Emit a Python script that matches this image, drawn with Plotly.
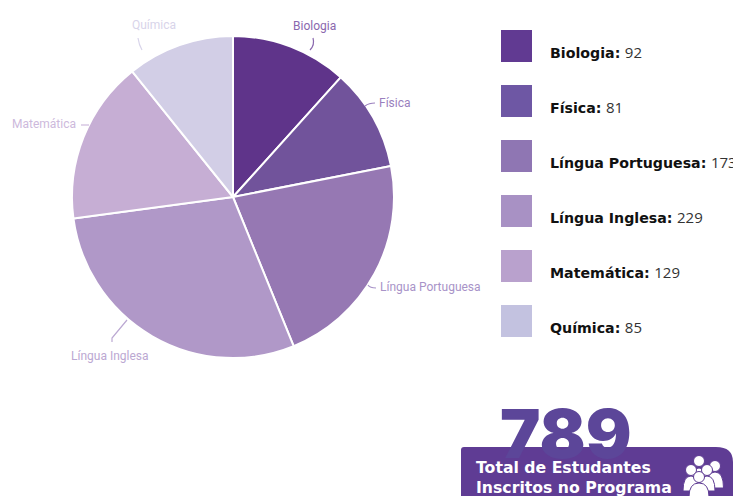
import plotly.graph_objects as go

W, H = 733, 496
categories = ["Biologia", "Física", "Língua Portuguesa", "Língua Inglesa", "Matemática", "Química"]
students = [92, 81, 173, 229, 129, 85]
total_value = "789"
banner_lines = ["Total de Estudantes", "Inscritos no Programa"]

pie_colors = ["#5f348a", "#71539b", "#9678b3", "#b098c8", "#c6aed4", "#d2cee6"]
legend_colors = ["#613a92", "#6e57a4", "#8f76b3", "#a891c4", "#b9a1cd", "#c3c2e0"]
label_colors = ["#8a68ae", "#9a7fbe", "#a893c8", "#bba8d2", "#cdb9dc", "#d8d4ea"]
label_pos = [(314, 26, "center"), (377, 103, "left"), (378, 287, "left"),
             (110, 356, "center"), (78, 124, "right"), (154, 25, "center")]
leaders = [
    "M 313 38 Q 315 45 310 50",
    "M 375 103 Q 369 103 365 106",
    "M 376 288 Q 370 288 368 285",
    "M 112 342 L 112 338 L 127 320",
    "M 81 125 L 89 125",
    "M 138 38 Q 139 45 142 50",
]

def fx(x): return x / W
def fy(y): return 1 - y / H

fig = go.Figure(go.Pie(
    labels=categories, values=students, sort=False, direction="clockwise", rotation=0,
    marker=dict(colors=pie_colors, line=dict(color="white", width=2)),
    textinfo="none", hoverinfo="label+value", showlegend=False,
    domain=dict(x=[fx(72), fx(394)], y=[fy(358), fy(36)]),
))

shapes, ann = [], []
for path, col in zip(leaders, label_colors):
    shapes.append(dict(type="path", xref="x", yref="y", path=path,
                       line=dict(color=col, width=1.2)))
for cat, (x, y, a), col in zip(categories, label_pos, label_colors):
    ann.append(dict(x=fx(x), y=fy(y), xref="paper", yref="paper", text=cat, showarrow=False,
                    xanchor=a, yanchor="middle", font=dict(family="Roboto", size=12, color=col)))

for i, (cat, v, col) in enumerate(zip(categories, students, legend_colors)):
    top = 30 + i * 55
    shapes.append(dict(type="rect", xref="x", yref="y", x0=501, x1=532, y0=top, y1=top + 32,
                       fillcolor=col, line=dict(width=0)))
    ann.append(dict(x=fx(547.5), y=fy(top + 21.5), xref="paper", yref="paper", showarrow=False,
                    xanchor="left", yanchor="middle", align="left",
                    text=f"<b>{cat}:</b> <span style='font-family:Open Sans;font-size:15px;color:#333'>{v}</span>",
                    font=dict(family="DejaVu Sans", size=14.2, color="#111111")))

# banner
shapes.append(dict(type="path", xref="x", yref="y",
                   path="M 461 496 L 461 450 Q 461 447 464 447 L 716 447 Q 733 447 733 462 L 733 496 Z",
                   fillcolor="#5f3c94", line=dict(width=0)))
ann.append(dict(x=fx(565.5), y=fy(433), xref="paper", yref="paper", text=total_value,
                showarrow=False, xanchor="center", yanchor="middle",
                font=dict(family="Inter", size=68, weight=900, color="#5c4699")))
for j, line in enumerate(banner_lines):
    ann.append(dict(x=fx(474), y=fy(467 + j * 20), xref="paper", yref="paper",
                    text=f"<b>{line}</b>", showarrow=False, xanchor="left", yanchor="middle",
                    font=dict(family="DejaVu Sans", size=15.7, color="white")))

# group icon
def circ(cx, cy, r):
    return dict(type="circle", xref="x", yref="y", x0=cx - r, x1=cx + r, y0=cy - r, y1=cy + r,
                fillcolor="white", line=dict(color="#5f3c94", width=1))
def body(cx, top, hw, bot):
    return dict(type="path", xref="x", yref="y",
                path=f"M {cx-hw} {bot} Q {cx-hw} {top} {cx} {top} Q {cx+hw} {top} {cx+hw} {bot} Z",
                fillcolor="white", line=dict(color="#5f3c94", width=1))
for cx, cy, r, top, hw, bot in [(699, 461, 5.5, 468, 8, 482), (715, 466, 5.5, 472, 8.5, 488),
                                (691, 470, 5.5, 476, 8, 491),
                                (707, 470, 5.5, 476, 8, 491),
                                (699, 477, 5.5, 483, 10, 497)]:
    shapes.append(body(cx, top, hw, bot))
    shapes.append(circ(cx, cy, r))

fig.update_layout(
    width=W, height=H, autosize=False, margin=dict(l=0, r=0, t=0, b=0),
    paper_bgcolor="white", plot_bgcolor="white", showlegend=False,
    xaxis=dict(range=[0, W], visible=False, fixedrange=True),
    yaxis=dict(range=[H, 0], visible=False, fixedrange=True),
    shapes=shapes, annotations=ann,
)
fig.write_html("out.html", config=dict(displayModeBar=False),
               post_script="document.body.style.margin='0';document.body.style.overflow='hidden';")
